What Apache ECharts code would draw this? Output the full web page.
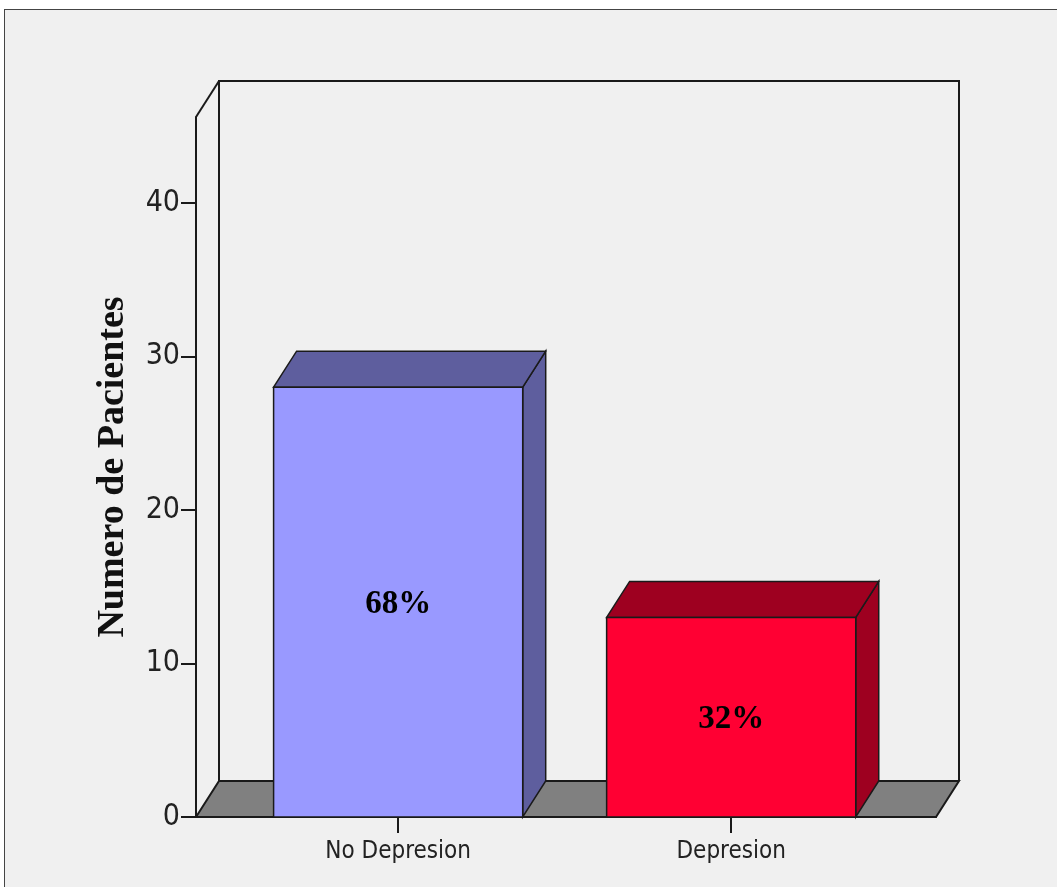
<!DOCTYPE html>
<html>
<head>
<meta charset="utf-8">
<script src="https://cdn.jsdelivr.net/npm/echarts@6/dist/echarts.min.js"></script>
<style>
  html, body { margin: 0; padding: 0; background: #ffffff; overflow: hidden; }
  #frame { position: absolute; left: 4px; top: 9px; width: 1070px; height: 900px;
           background: #f0f0f0; border: 1px solid #444; }
  #chart { position: absolute; left: 0; top: 0; width: 1057px; height: 887px; }
</style>
</head>
<body>
<div id="frame"></div>
<div id="chart"></div>
<script>
// datos
const categories = ['No Depresion', 'Depresion']
const pacientes = [28, 13]
const yTicks = [0, 10, 20, 30, 40]
const frontColors = ['#9999ff', '#ff0033']
const darkColors = ['#5e5e9e', '#9e0020']

const DX = 23, DY = -36      // profundidad 3D en px
const BAR_W = 0.748          // ancho de barra en unidades del eje x
const LINE = '#1a1a1a'
const NARROW = "'Liberation Sans Narrow', 'DejaVu Sans Condensed', 'Arial Narrow', sans-serif"
const SERIF = "'Liberation Serif', 'Times New Roman', serif"

const total = pacientes.reduce((a, b) => a + b, 0)
const barData = pacientes.map((v, i) => [i, v])

const chart = echarts.init(document.getElementById('chart'))

// pared de fondo + suelo gris
function renderFrame(params, api) {
    const cs = params.coordSys
    const L = cs.x, R = cs.x + cs.width, T = cs.y, B = cs.y + cs.height
    return {
        type: 'group',
        children: [
            {
                type: 'polygon',
                shape: { points: [[L, B], [L + DX, B + DY], [R + DX, B + DY], [R, B]] },
                style: { fill: '#808080', stroke: LINE, lineWidth: 2 }
            },
            {
                type: 'polyline',
                shape: { points: [[L + DX, B + DY], [L + DX, T + DY], [R + DX, T + DY], [R + DX, B + DY]] },
                style: { fill: null, stroke: LINE, lineWidth: 2 }
            },
            {
                type: 'line',
                shape: { x1: L, y1: T, x2: L + DX, y2: T + DY },
                style: { stroke: LINE, lineWidth: 2 }
            }
        ]
    }
}

function renderBar(params, api) {
    const i = params.dataIndex
    const x = api.value(0), v = api.value(1)
    const base = api.coord([x, 0])
    const top = api.coord([x, v])
    const hw = api.size([BAR_W, 0])[0] / 2
    const l = base[0] - hw, r = base[0] + hw, t = top[1], b = base[1]
    const pct = Math.round(v / total * 100) + '%'
    return {
        type: 'group',
        children: [
            {
                type: 'polygon',
                shape: { points: [[r, t], [r + DX, t + DY], [r + DX, b + DY], [r, b]] },
                style: { fill: darkColors[i], stroke: LINE, lineWidth: 1.5 }
            },
            {
                type: 'polygon',
                shape: { points: [[l, t], [l + DX, t + DY], [r + DX, t + DY], [r, t]] },
                style: { fill: darkColors[i], stroke: LINE, lineWidth: 1.5 }
            },
            {
                type: 'rect',
                shape: { x: l, y: t, width: r - l, height: b - t },
                style: { fill: frontColors[i], stroke: LINE, lineWidth: 1.5 }
            },
            {
                type: 'text',
                x: base[0], y: (t + b) / 2 + 2,
                style: {
                    text: pct, fill: '#000', align: 'center', verticalAlign: 'middle',
                    font: 'bold 33px ' + SERIF
                }
            }
        ]
    }
}

chart.setOption({
    backgroundColor: 'transparent',
    animation: false,
    grid: { left: 196, right: 121, top: 117, bottom: 70 },
    xAxis: {
        type: 'value',
        min: -0.607,
        max: 1.615,
        splitLine: { show: false },
        axisLine: { show: true, onZero: false, lineStyle: { color: LINE, width: 2 } },
        axisTick: { show: true, customValues: [0, 1], length: 16, lineStyle: { color: LINE, width: 2 } },
        axisLabel: {
            customValues: [0, 1],
            formatter: v => categories[Math.round(v)] || '',
            color: '#222', fontSize: 24, fontFamily: NARROW, margin: 23
        }
    },
    yAxis: {
        type: 'value',
        min: 0,
        max: 45.6,
        interval: 10,
        name: 'Numero de Pacientes',
        nameLocation: 'middle',
        nameRotate: 90,
        nameGap: 64,
        nameTextStyle: { fontFamily: SERIF, fontWeight: 'bold', fontSize: 38, color: '#111' },
        splitLine: { show: false },
        axisLine: { show: true, onZero: false, lineStyle: { color: LINE, width: 2 } },
        axisTick: { show: true, customValues: yTicks, length: 15, lineStyle: { color: LINE, width: 2 } },
        axisLabel: {
            customValues: yTicks,
            color: '#222', fontSize: 30, fontFamily: NARROW, margin: 16
        }
    },
    series: [
        {
            type: 'custom',
            silent: true,
            clip: false,
            z: 1,
            renderItem: renderFrame,
            data: [[0, 0]]
        },
        {
            type: 'custom',
            clip: false,
            z: 2,
            renderItem: renderBar,
            data: barData
        }
    ]
})
</script>
</body>
</html>
